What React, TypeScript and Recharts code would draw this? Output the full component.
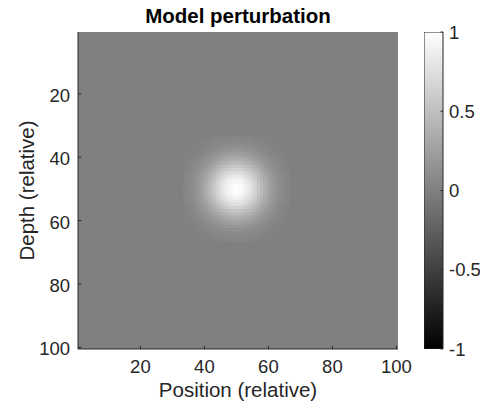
import { Bar, CartesianGrid, ComposedChart, Label, Scatter, ScatterChart, XAxis, YAxis } from "recharts"

// model grid: 100 x 100 cells, position across, depth down
const gridSize = 100
const positionTicks = [20, 40, 60, 80, 100]
const depthTicks = [20, 40, 60, 80, 100]
const colorTicks = [-1, -0.5, 0, 0.5, 1]
const colorRange = [-1, 1]
const title = "Model perturbation"

// perturbation patch (hundredths), top-left cell at (34, 34)
// every cell outside the patch is 0
const patchFirstPosition = 34
const patchFirstDepth = 34
const patchRows = [
  [0, 0, 0, 1, 1, 1, 1, 2, 2, 3, 3, 4, 4, 4, 5, 5, 5, 5, 5, 4, 4, 4, 3, 3, 2, 2, 1, 1, 1, 1, 0, 0, 0],
  [0, 0, 1, 1, 1, 2, 2, 3, 3, 4, 5, 5, 6, 6, 7, 7, 7, 7, 7, 6, 6, 5, 5, 4, 3, 3, 2, 2, 1, 1, 1, 0, 0],
  [0, 1, 1, 1, 2, 2, 3, 4, 5, 6, 6, 7, 8, 9, 9, 10, 10, 10, 9, 9, 8, 7, 6, 6, 5, 4, 3, 2, 2, 1, 1, 1, 0],
  [1, 1, 1, 2, 2, 3, 4, 5, 6, 8, 9, 10, 11, 12, 13, 13, 14, 13, 13, 12, 11, 10, 9, 8, 6, 5, 4, 3, 2, 2, 1, 1, 1],
  [1, 1, 2, 2, 3, 4, 6, 7, 9, 10, 12, 14, 15, 16, 17, 18, 18, 18, 17, 16, 15, 14, 12, 10, 9, 7, 6, 4, 3, 2, 2, 1, 1],
  [1, 2, 2, 3, 4, 6, 7, 9, 11, 13, 16, 18, 20, 21, 23, 24, 24, 24, 23, 21, 20, 18, 16, 13, 11, 9, 7, 6, 4, 3, 2, 2, 1],
  [1, 2, 3, 4, 6, 7, 9, 12, 14, 17, 20, 23, 25, 28, 29, 30, 31, 30, 29, 28, 25, 23, 20, 17, 14, 12, 9, 7, 6, 4, 3, 2, 1],
  [2, 3, 4, 5, 7, 9, 12, 15, 18, 21, 25, 29, 32, 34, 37, 38, 38, 38, 37, 34, 32, 29, 25, 21, 18, 15, 12, 9, 7, 5, 4, 3, 2],
  [2, 3, 5, 6, 9, 11, 14, 18, 22, 26, 31, 35, 39, 42, 45, 46, 47, 46, 45, 42, 39, 35, 31, 26, 22, 18, 14, 11, 9, 6, 5, 3, 2],
  [3, 4, 6, 8, 10, 13, 17, 21, 26, 31, 37, 42, 46, 50, 53, 55, 56, 55, 53, 50, 46, 42, 37, 31, 26, 21, 17, 13, 10, 8, 6, 4, 3],
  [3, 5, 6, 9, 12, 16, 20, 25, 31, 37, 43, 49, 54, 59, 62, 65, 65, 65, 62, 59, 54, 49, 43, 37, 31, 25, 20, 16, 12, 9, 6, 5, 3],
  [4, 5, 7, 10, 14, 18, 23, 29, 35, 42, 49, 55, 62, 67, 71, 74, 74, 74, 71, 67, 62, 55, 49, 42, 35, 29, 23, 18, 14, 10, 7, 5, 4],
  [4, 6, 8, 11, 15, 20, 25, 32, 39, 46, 54, 62, 68, 74, 79, 82, 83, 82, 79, 74, 68, 62, 54, 46, 39, 32, 25, 20, 15, 11, 8, 6, 4],
  [4, 6, 9, 12, 16, 21, 28, 34, 42, 50, 59, 67, 74, 81, 86, 89, 90, 89, 86, 81, 74, 67, 59, 50, 42, 34, 28, 21, 16, 12, 9, 6, 4],
  [5, 7, 9, 13, 17, 23, 29, 37, 45, 53, 62, 71, 79, 86, 91, 94, 95, 94, 91, 86, 79, 71, 62, 53, 45, 37, 29, 23, 17, 13, 9, 7, 5],
  [5, 7, 10, 13, 18, 24, 30, 38, 46, 55, 65, 74, 82, 89, 94, 98, 99, 98, 94, 89, 82, 74, 65, 55, 46, 38, 30, 24, 18, 13, 10, 7, 5],
  [5, 7, 10, 14, 18, 24, 31, 38, 47, 56, 65, 74, 83, 90, 95, 99, 100, 99, 95, 90, 83, 74, 65, 56, 47, 38, 31, 24, 18, 14, 10, 7, 5],
  [5, 7, 10, 13, 18, 24, 30, 38, 46, 55, 65, 74, 82, 89, 94, 98, 99, 98, 94, 89, 82, 74, 65, 55, 46, 38, 30, 24, 18, 13, 10, 7, 5],
  [5, 7, 9, 13, 17, 23, 29, 37, 45, 53, 62, 71, 79, 86, 91, 94, 95, 94, 91, 86, 79, 71, 62, 53, 45, 37, 29, 23, 17, 13, 9, 7, 5],
  [4, 6, 9, 12, 16, 21, 28, 34, 42, 50, 59, 67, 74, 81, 86, 89, 90, 89, 86, 81, 74, 67, 59, 50, 42, 34, 28, 21, 16, 12, 9, 6, 4],
  [4, 6, 8, 11, 15, 20, 25, 32, 39, 46, 54, 62, 68, 74, 79, 82, 83, 82, 79, 74, 68, 62, 54, 46, 39, 32, 25, 20, 15, 11, 8, 6, 4],
  [4, 5, 7, 10, 14, 18, 23, 29, 35, 42, 49, 55, 62, 67, 71, 74, 74, 74, 71, 67, 62, 55, 49, 42, 35, 29, 23, 18, 14, 10, 7, 5, 4],
  [3, 5, 6, 9, 12, 16, 20, 25, 31, 37, 43, 49, 54, 59, 62, 65, 65, 65, 62, 59, 54, 49, 43, 37, 31, 25, 20, 16, 12, 9, 6, 5, 3],
  [3, 4, 6, 8, 10, 13, 17, 21, 26, 31, 37, 42, 46, 50, 53, 55, 56, 55, 53, 50, 46, 42, 37, 31, 26, 21, 17, 13, 10, 8, 6, 4, 3],
  [2, 3, 5, 6, 9, 11, 14, 18, 22, 26, 31, 35, 39, 42, 45, 46, 47, 46, 45, 42, 39, 35, 31, 26, 22, 18, 14, 11, 9, 6, 5, 3, 2],
  [2, 3, 4, 5, 7, 9, 12, 15, 18, 21, 25, 29, 32, 34, 37, 38, 38, 38, 37, 34, 32, 29, 25, 21, 18, 15, 12, 9, 7, 5, 4, 3, 2],
  [1, 2, 3, 4, 6, 7, 9, 12, 14, 17, 20, 23, 25, 28, 29, 30, 31, 30, 29, 28, 25, 23, 20, 17, 14, 12, 9, 7, 6, 4, 3, 2, 1],
  [1, 2, 2, 3, 4, 6, 7, 9, 11, 13, 16, 18, 20, 21, 23, 24, 24, 24, 23, 21, 20, 18, 16, 13, 11, 9, 7, 6, 4, 3, 2, 2, 1],
  [1, 1, 2, 2, 3, 4, 6, 7, 9, 10, 12, 14, 15, 16, 17, 18, 18, 18, 17, 16, 15, 14, 12, 10, 9, 7, 6, 4, 3, 2, 2, 1, 1],
  [1, 1, 1, 2, 2, 3, 4, 5, 6, 8, 9, 10, 11, 12, 13, 13, 14, 13, 13, 12, 11, 10, 9, 8, 6, 5, 4, 3, 2, 2, 1, 1, 1],
  [0, 1, 1, 1, 2, 2, 3, 4, 5, 6, 6, 7, 8, 9, 9, 10, 10, 10, 9, 9, 8, 7, 6, 6, 5, 4, 3, 2, 2, 1, 1, 1, 0],
  [0, 0, 1, 1, 1, 2, 2, 3, 3, 4, 5, 5, 6, 6, 7, 7, 7, 7, 7, 6, 6, 5, 5, 4, 3, 3, 2, 2, 1, 1, 1, 0, 0],
  [0, 0, 0, 1, 1, 1, 1, 2, 2, 3, 3, 4, 4, 4, 5, 5, 5, 5, 5, 4, 4, 4, 3, 3, 2, 2, 1, 1, 1, 1, 0, 0, 0],
]

const cells = patchRows
  .flatMap((row, r) =>
    row.map((v, c) => ({ position: patchFirstPosition + c, depth: patchFirstDepth + r, value: v / 100 }))
  )
  .filter((d) => d.value > 0)

const colorBarData = [{ name: "scale", range: colorRange }]

const W = 480
const H = 412
const margin = { top: 32, right: 82, bottom: 0, left: 0 }
const yAxisW = 78
const xAxisH = 63
const plotW = W - margin.left - margin.right - yAxisW
const plotH = H - margin.top - margin.bottom - xAxisH
const cellW = plotW / gridSize
const cellH = plotH / gridSize
const tickLen = 3.2
const ink = "#262626"
const font = "'Liberation Sans', Arial, Helvetica, sans-serif"
const domain = [0.5, gridSize + 0.5]

const grayLevel = (v: number) => Math.round(((v - colorRange[0]) / (colorRange[1] - colorRange[0])) * 255)
const gray = (v: number) => {
  const g = grayLevel(v)
  return `rgb(${g},${g},${g})`
}

const renderCell = (p: any) => (
  <rect
    x={p.cx - cellW / 2 - 0.3}
    y={p.cy - cellH / 2 - 0.3}
    width={cellW + 0.6}
    height={cellH + 0.6}
    fill={gray(p.payload.value)}
  />
)

const BottomTick = ({ x, y, payload }: any) => (
  <g>
    <line x1={x} y1={y} x2={x} y2={y - tickLen} stroke={ink} />
    <text x={x} y={y + 24} textAnchor="middle" fill={ink} fontSize={18.5} fontFamily={font}>
      {payload.value}
    </text>
  </g>
)

const TopTick = ({ x, y }: any) => <line x1={x} y1={y} x2={x} y2={y + tickLen} stroke={ink} />

const LeftTick = ({ x, y, payload }: any) => (
  <g>
    <line x1={x} y1={y} x2={x + tickLen} y2={y} stroke={ink} />
    <text x={x - 8} y={y + 8} textAnchor="end" fill={ink} fontSize={18.5} fontFamily={font}>
      {payload.value}
    </text>
  </g>
)

const RightTick = ({ x, y }: any) => <line x1={x} y1={y} x2={x - tickLen} y2={y} stroke={ink} />

const ColorTick = ({ x, y, payload }: any) => (
  <g>
    <line x1={x} y1={y} x2={x - 2.5} y2={y} stroke={ink} />
    <text x={x + 6} y={y + 6.5} textAnchor="start" fill={ink} fontSize={18.5} fontFamily={font}>
      {payload.value}
    </text>
  </g>
)

export default function App() {
  return (
    <div style={{ position: "absolute", left: 0, top: 0, width: W, height: H, background: "#fff" }}>
      <ScatterChart width={W} height={H} margin={margin}>
        <CartesianGrid horizontal={false} vertical={false} fill={gray(0)} fillOpacity={1} stroke="none" />
        <XAxis
          dataKey="position"
          type="number"
          domain={domain}
          ticks={positionTicks}
          interval={0}
          height={xAxisH}
          tickSize={0}
          tickMargin={0}
          tickLine={false}
          axisLine={{ stroke: ink }}
          tick={BottomTick}
          allowDataOverflow
        >
          <Label
            content={({ viewBox }: any) => (
              <text
                x={viewBox.x + viewBox.width / 2}
                y={viewBox.y + 48}
                textAnchor="middle"
                fill={ink}
                fontSize={20.5}
                fontFamily={font}
              >
                Position (relative)
              </text>
            )}
          />
        </XAxis>
        <XAxis
          xAxisId="top"
          orientation="top"
          type="number"
          domain={domain}
          ticks={positionTicks}
          interval={0}
          height={0}
          tickSize={0}
          tickMargin={0}
          tickLine={false}
          axisLine={{ stroke: ink }}
          tick={TopTick}
          allowDataOverflow
        />
        <YAxis
          dataKey="depth"
          type="number"
          reversed
          domain={domain}
          ticks={depthTicks}
          interval={0}
          width={yAxisW}
          tickSize={0}
          tickMargin={0}
          tickLine={false}
          axisLine={{ stroke: ink }}
          tick={LeftTick}
          allowDataOverflow
        >
          <Label
            content={({ viewBox }: any) => {
              const cx = 34
              const cy = viewBox.y + viewBox.height / 2
              return (
                <text
                  x={cx}
                  y={cy}
                  transform={`rotate(-90, ${cx}, ${cy})`}
                  textAnchor="middle"
                  fill={ink}
                  fontSize={20.5}
                  fontFamily={font}
                >
                  Depth (relative)
                </text>
              )
            }}
          />
        </YAxis>
        <YAxis
          yAxisId="right"
          orientation="right"
          type="number"
          reversed
          domain={domain}
          ticks={depthTicks}
          interval={0}
          width={0}
          tickSize={0}
          tickMargin={0}
          tickLine={false}
          axisLine={{ stroke: ink }}
          tick={RightTick}
          allowDataOverflow
        />
        <Scatter data={cells} shape={renderCell} isAnimationActive={false} />
      </ScatterChart>

      {/* title over the plot area */}
      <svg
        width={W}
        height={30}
        style={{ position: "absolute", left: 0, top: 0, pointerEvents: "none" }}
      >
        <text
          x={yAxisW + plotW / 2}
          y={23}
          textAnchor="middle"
          fill="#000"
          fontSize={20.5}
          fontWeight="bold"
          fontFamily={font}
        >
          {title}
        </text>
      </svg>

      <div style={{ position: "absolute", left: 424, top: 0 }}>
        <ComposedChart
          width={56}
          height={H}
          data={colorBarData}
          margin={{ top: 32, right: 0, bottom: 63, left: 0 }}
          barCategoryGap={0}
          barGap={0}
        >
          <defs>
            <linearGradient id="cbGray" x1="0" y1="0" x2="0" y2="1">
              <stop offset="0" stopColor="#ffffff" />
              <stop offset="1" stopColor="#000000" />
            </linearGradient>
          </defs>
          <XAxis dataKey="name" hide />
          <YAxis
            orientation="right"
            type="number"
            domain={colorRange}
            ticks={colorTicks}
            interval={0}
            width={37}
            tickSize={0}
            tickMargin={0}
            tickLine={false}
            axisLine={false}
            tick={ColorTick}
            allowDataOverflow
          />
          <Bar dataKey="range" fill="url(#cbGray)" stroke={ink} isAnimationActive={false} />
        </ComposedChart>
      </div>
    </div>
  )
}
